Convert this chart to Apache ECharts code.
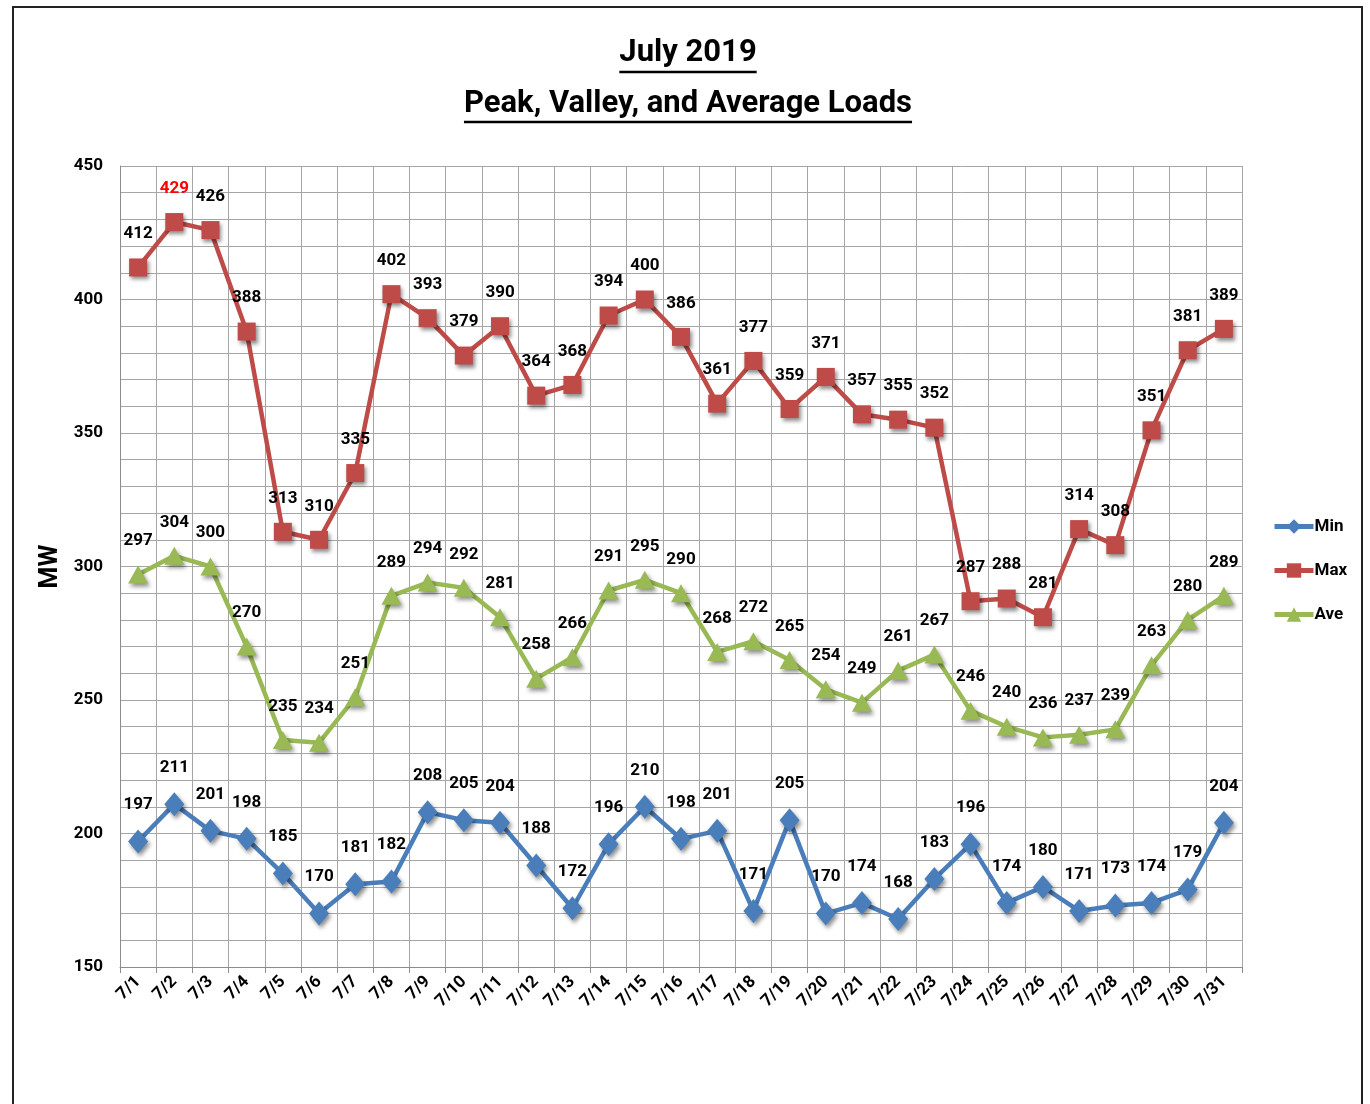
<!DOCTYPE html>
<html>
<head>
<meta charset="utf-8">
<script src="https://cdn.jsdelivr.net/npm/echarts@6/dist/echarts.min.js"></script>
<style>
html,body{margin:0;padding:0;background:#fff;}
#chart{width:1370px;height:1104px;}
</style>
</head>
<body>
<div id="chart"></div>
<script>
const categories = ['7/1','7/2','7/3','7/4','7/5','7/6','7/7','7/8','7/9','7/10','7/11','7/12','7/13','7/14','7/15','7/16','7/17','7/18','7/19','7/20','7/21','7/22','7/23','7/24','7/25','7/26','7/27','7/28','7/29','7/30','7/31'];
const minLoads = [197,211,201,198,185,170,181,182,208,205,204,188,172,196,210,198,201,171,205,170,174,168,183,196,174,180,171,173,174,179,204];
const maxLoads = [412,429,426,388,313,310,335,402,393,379,390,364,368,394,400,386,361,377,359,371,357,355,352,287,288,281,314,308,351,381,389];
const aveLoads = [297,304,300,270,235,234,251,289,294,292,281,258,266,291,295,290,268,272,265,254,249,261,267,246,240,236,237,239,263,280,289];
const yTicks = [150,200,250,300,350,400,450];
const titleLine1 = 'July 2019';
const titleLine2 = 'Peak, Valley, and Average Loads';

const FONT = "'Roboto', sans-serif";
const chart = echarts.init(document.getElementById('chart'));

function textWidth(str, size) {
  const c = document.createElement('canvas').getContext('2d');
  c.font = 'bold ' + size + 'px ' + FONT;
  return c.measureText(str).width;
}
const T1 = 31, T2 = 31;
const w1 = textWidth(titleLine1, T1), w2 = textWidth(titleLine2, T2);
const cx = 688;

const shadow = {shadowBlur: 4, shadowColor: 'rgba(0,0,0,0.45)', shadowOffsetX: 2, shadowOffsetY: 3};
const labelBase = {show: true, position: 'top', distance: 16, color: '#000', fontWeight: 'bold', fontSize: 17, fontFamily: FONT};

function mk(name, data, color, symbol, size) {
  return {
    name, type: 'line', data, symbol, symbolSize: size,
    lineStyle: {color, width: 4.5},
    itemStyle: Object.assign({color}, shadow),
    label: labelBase,
    emphasis: {disabled: true},
    z: 3
  };
}

const maxData = maxLoads.map((v, i) => v === Math.max(...maxLoads) ? {value: v, label: {color: '#ff0000'}} : v);

chart.setOption({
  animation: false,
  backgroundColor: '#fff',
  textStyle: {fontFamily: FONT},
  grid: {left: 120, right: 128, top: 166, bottom: 137, containLabel: false},
  legend: {
    orient: 'vertical', left: 1267, top: 513, itemWidth: 39, itemHeight: 18, itemGap: 27,
    lineStyle: {width: 5},
    textStyle: {fontWeight: 'bold', fontSize: 17, color: '#000', fontFamily: FONT, padding: [0,0,0,-4]},
    data: ['Min', 'Max', 'Ave']
  },
  xAxis: {
    type: 'category', data: categories, boundaryGap: true,
    axisLine: {lineStyle: {color: '#8c8c8c', width: 1}},
    axisTick: {show: true, length: 6, lineStyle: {color: '#8c8c8c'}},
    splitLine: {show: true, lineStyle: {color: '#a6a6a6', width: 1}},
    axisLabel: {rotate: 45, margin: 12, color: '#000', fontWeight: 'bold', fontSize: 17, fontFamily: FONT, interval: 0}
  },
  yAxis: {
    type: 'value', min: yTicks[0], max: yTicks[yTicks.length - 1], interval: 50,
    name: 'MW', nameLocation: 'middle', nameGap: 52, nameRotate: 90,
    nameTextStyle: {fontWeight: 'bold', fontSize: 25, color: '#000', fontFamily: FONT},
    axisLine: {show: true, lineStyle: {color: '#8c8c8c'}},
    axisTick: {show: false},
    axisLabel: {margin: 17, color: '#000', fontWeight: 'bold', fontSize: 17, fontFamily: FONT},
    splitLine: {show: true, lineStyle: {color: '#a6a6a6', width: 1}},
    minorTick: {show: false, splitNumber: 5},
    minorSplitLine: {show: true, lineStyle: {color: '#a6a6a6', width: 1}}
  },
  graphic: [
    {type: 'rect', shape: {x: 13, y: 7, width: 1349, height: 1110}, style: {fill: 'none', stroke: '#222', lineWidth: 2}, silent: true},
    {type: 'text', x: cx, y: 53, style: {text: titleLine1, font: 'bold ' + T1 + 'px ' + FONT, fill: '#000', textAlign: 'center', textVerticalAlign: 'middle'}},
    {type: 'line', shape: {x1: cx - w1 / 2, y1: 72, x2: cx + w1 / 2, y2: 72}, style: {stroke: '#000', lineWidth: 2.5}},
    {type: 'text', x: cx, y: 104, style: {text: titleLine2, font: 'bold ' + T2 + 'px ' + FONT, fill: '#000', textAlign: 'center', textVerticalAlign: 'middle'}},
    {type: 'line', shape: {x1: cx - w2 / 2, y1: 122, x2: cx + w2 / 2, y2: 122}, style: {stroke: '#000', lineWidth: 2.5}}
  ],
  series: [
    mk('Min', minLoads, '#4a7ebb', 'diamond', [20, 24]),
    mk('Max', maxData, '#be4b48', 'rect', 18),
    mk('Ave', aveLoads, '#98b954', 'triangle', [20, 18])
  ]
});
</script>
</body>
</html>
